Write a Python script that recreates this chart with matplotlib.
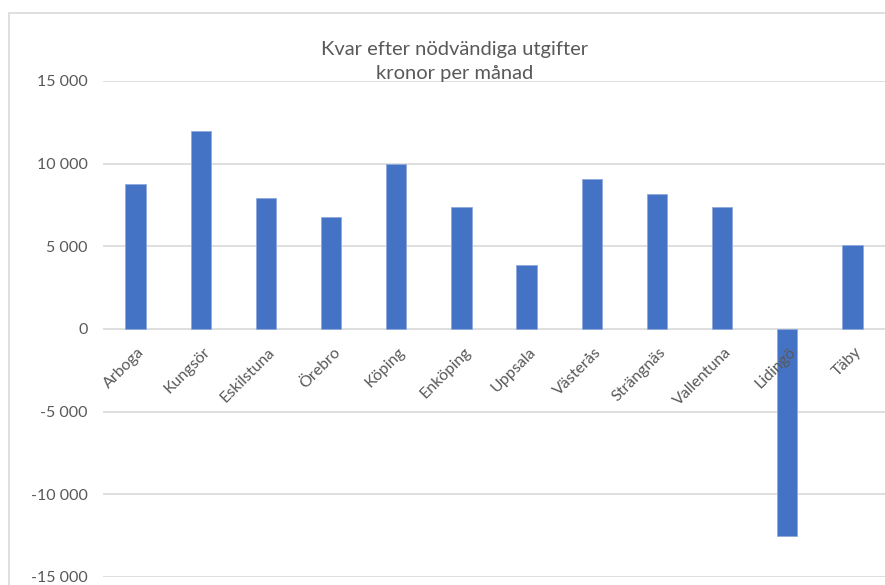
import matplotlib.pyplot as plt
import matplotlib.patches as patches
from matplotlib.ticker import FuncFormatter

# Data
kommuner = ['Arboga', 'Kungsör', 'Eskilstuna', 'Örebro', 'Köping', 'Enköping',
            'Uppsala', 'Västerås', 'Strängnäs', 'Vallentuna', 'Lidingö', 'Täby']
kvar = [8750, 12000, 7900, 6750, 10000, 7400,
        3900, 9050, 8150, 7400, -12500, 5100]
y_ticks = [-15000, -10000, -5000, 0, 5000, 10000, 15000]

BAR_COLOR = '#4472C4'
GRID_COLOR = '#D9D9D9'
TEXT_COLOR = '#595959'

plt.rcParams['font.family'] = ['Lato', 'DejaVu Sans']

fig = plt.figure(figsize=(8.85, 5.85), dpi=100)
ax = fig.add_axes([103 / 885, 1 - 577 / 585, 1 - 103 / 885, (577 - 81) / 585])

x = list(range(len(kommuner)))
ax.bar(x, kvar, width=0.31, color=BAR_COLOR, edgecolor='#8FAADC', linewidth=0.6, zorder=3)

ax.set_xlim(-0.5, len(kommuner) - 0.5)
ax.set_ylim(-15000, 15000)
ax.set_yticks(y_ticks)
ax.yaxis.set_major_formatter(FuncFormatter(lambda v, p: f"{int(v):,}".replace(',', ' ')))
ax.tick_params(axis='y', length=0, pad=11, labelsize=11.5, labelcolor=TEXT_COLOR)
ax.set_xticks([])
ax.grid(axis='y', color=GRID_COLOR, linewidth=1.2, zorder=0)
for s in ax.spines.values():
    s.set_visible(False)

# category labels sit just under the zero line, rotated like Excel does
for i, name in enumerate(kommuner):
    ax.annotate(name, xy=(i, 0), xytext=(2, -16), textcoords='offset pixels',
                rotation=45, rotation_mode='anchor', ha='right', va='top',
                fontsize=11.5, color=TEXT_COLOR)

fig.text(455 / 885, 1 - 61 / 585, 'Kvar efter nödvändiga utgifter\nkronor per månad',
         ha='center', va='center', fontsize=14.5, color=TEXT_COLOR, linespacing=1.5)

# chart area border (cropped on the right and bottom)
fig.patches.append(patches.Rectangle((9 / 885, -0.1), 1.2, 1.1 - 13 / 585,
                                     transform=fig.transFigure, fill=False,
                                     edgecolor=GRID_COLOR, linewidth=1.2))

fig.savefig('out.png', dpi=100)
